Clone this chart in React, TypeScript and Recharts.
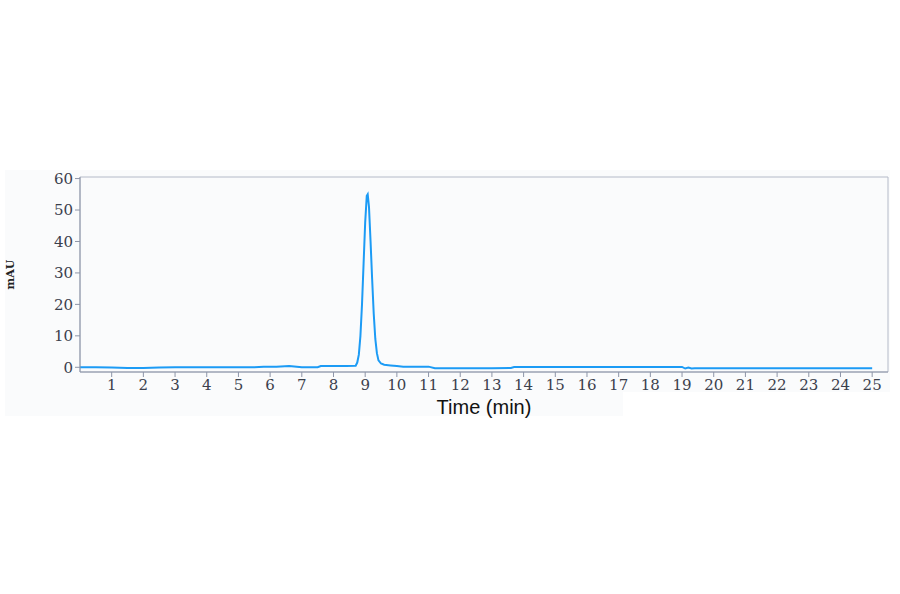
import { LineChart, Line, XAxis, YAxis, ReferenceArea, Label } from 'recharts';

// Chromatogram trace (time in min, absorbance in mAU)
const TIME = [
  0, 0.5, 1, 1.5, 2, 2.5, 3, 3.5, 4, 4.5, 5, 5.5, 5.8, 6.2, 6.6, 7.0, 7.5, 7.6, 8.0, 8.4,
  8.7, 8.75, 8.8, 8.85, 8.9, 8.95, 9.0, 9.05, 9.08, 9.12, 9.17, 9.22, 9.27, 9.32, 9.37,
  9.42, 9.5, 9.6, 9.8, 10.0, 10.2, 10.6, 11.0, 11.2, 12, 13, 13.6, 13.7, 15, 17, 19.0,
  19.1, 19.2, 19.3, 19.4, 20, 22, 24, 25,
];
const MAU = [
  0, 0, -0.1, -0.2, -0.2, -0.1, 0, 0, 0, 0, 0, 0, 0.2, 0.2, 0.4, 0, 0, 0.4, 0.4, 0.4,
  0.5, 1.5, 4, 10, 20, 33, 46, 54.5, 55, 51, 40, 28, 17, 9, 4.5,
  2.2, 1.2, 0.8, 0.6, 0.4, 0.2, 0.2, 0.2, -0.3, -0.3, -0.3, -0.2, 0.1, 0.1, 0.1, 0.1,
  -0.4, -0.1, -0.4, -0.3, -0.3, -0.3, -0.3, -0.3,
];
const X_TICKS = [1, 2, 3, 4, 5, 6, 7, 8, 9, 10, 11, 12, 13, 14, 15, 16, 17, 18, 19, 20, 21, 22, 23, 24, 25];
const Y_TICKS = [0, 10, 20, 30, 40, 50, 60];

const data = TIME.map((t, i) => ({ t, v: MAU[i] }));

const AXIS = '#8d95a8';
const TICK = { fill: '#3b404c', fontSize: 15, fontFamily: '"DejaVu Serif", serif' };

export default function App() {
  return (
    <div style={{ position: 'absolute', left: 0, top: 0, width: 900, height: 594, background: '#fff' }}>
      <div style={{ position: 'absolute', left: 5, top: 170, width: 618, height: 246, background: '#fafbfc' }} />
      <div style={{ position: 'absolute', left: 623, top: 170, width: 267, height: 222, background: '#fafbfc' }} />
      <div style={{ position: 'absolute', left: 0, top: 0 }}>
        <LineChart width={900} height={594} data={data} margin={{ top: 177, right: 12, bottom: 172, left: 0 }}>
          <XAxis
            dataKey="t"
            type="number"
            domain={[0, 25.5]}
            ticks={X_TICKS}
            allowDataOverflow
            stroke={AXIS}
            tickSize={5}
            tickMargin={2}
            tick={TICK}
            height={50}
          >
            <Label
              value="Time (min)"
              position="insideBottom"
              offset={8}
              style={{ fill: '#111', fontSize: 20, fontFamily: '"Liberation Sans", Arial, sans-serif' }}
            />
          </XAxis>
          <YAxis
            type="number"
            domain={[-1.5, 60.5]}
            ticks={Y_TICKS}
            allowDataOverflow
            stroke={AXIS}
            tickSize={5}
            tickMargin={2}
            tick={TICK}
            width={80}
          >
            <Label
              value="mAU"
              angle={-90}
              position="insideLeft"
              offset={10}
              style={{ fill: '#222', fontSize: 11, fontWeight: 'bold', fontFamily: '"DejaVu Serif", serif', textAnchor: 'middle' }}
            />
          </YAxis>
          <ReferenceArea x1={0} x2={25.5} y1={-1.5} y2={60.5} fill="none" stroke="#b4bac8" strokeWidth={1} />
          <Line
            type="linear"
            dataKey="v"
            stroke="#1c9bf5"
            strokeWidth={2}
            dot={false}
            isAnimationActive={false}
          />
        </LineChart>
      </div>
    </div>
  );
}
